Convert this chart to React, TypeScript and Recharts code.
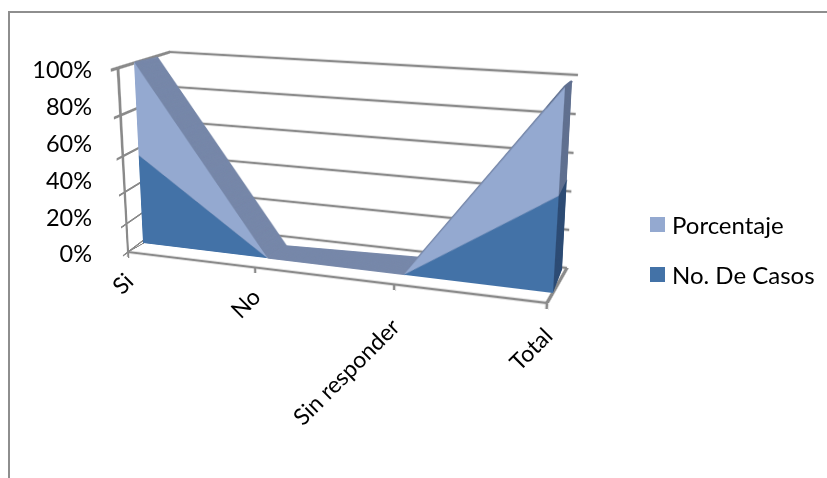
import { Area, AreaChart, CartesianGrid, ComposedChart, Line, XAxis, YAxis } from 'recharts';
import type { ReactNode } from 'react';

// Excel "3-D area" look: every plane is a flat chart pushed through a CSS homography
const categories = ['Si', 'No', 'Sin responder', 'Total'];
const porcentaje = [100, 0, 0, 100];
const casos = [99, 0, 0, 94];
const yTicks = [0, 20, 40, 60, 80, 100];
const legendNames = ['Porcentaje', 'No. De Casos'];
const legendColors = ['#94a9d0', '#4372a7'];

const rows = categories.map((name, i) => ({ name, porcentaje: porcentaje[i], casos: casos[i], pct: 0 }));

type Pt = [number, number];
type Quad = [Pt, Pt, Pt, Pt]; // TL, TR, BR, BL

const PAD = 6;
const FONT = 'Lato, Carlito, sans-serif';
const GRID = '#8a8a8a';
const LINE_W = 2.4;

const BACK_WALL: Quad = [[170, 52], [578, 75], [567, 268], [166, 223]];
const LEFT_WALL: Quad = [[118, 68], [170, 52], [166, 223], [128, 252]];
const FLOOR: Quad = [[165, 231], [567, 268], [547, 303], [128, 252]];
const FRONT: Quad = [[118, 68], [558, 93], [547, 303], [128, 252]];
const FACE_NEAR: Quad = [[134, 62], [565, 87], [553, 293], [143, 243]];
const FACE_FAR: Quad = [[157, 57], [572, 81], [562, 270], [157, 235]];
const LAYERS = 26;

function homography(q: Quad, w: number, h: number, pad: number) {
  const [[x0, y0], [x1, y1], [x2, y2], [x3, y3]] = q;
  const dx1 = x1 - x2, dx2 = x3 - x2, sx = x0 - x1 + x2 - x3;
  const dy1 = y1 - y2, dy2 = y3 - y2, sy = y0 - y1 + y2 - y3;
  const den = dx1 * dy2 - dx2 * dy1;
  const g = (sx * dy2 - dx2 * sy) / den;
  const k = (dx1 * sy - sx * dy1) / den;
  const a = x1 - x0 + g * x1, b = x3 - x0 + k * x3;
  const d = y1 - y0 + g * y1, e = y3 - y0 + k * y3;
  const col = (p: number, r: number, s: number) => [p / w, r / h, s - (p * pad) / w - (r * pad) / h];
  return [col(a, b, x0), col(d, e, y0), col(g, k, 1)];
}

function toMatrix3d(m: number[][]) {
  return `matrix3d(${m[0][0]},${m[1][0]},0,${m[2][0]},${m[0][1]},${m[1][1]},0,${m[2][1]},0,0,1,0,${m[0][2]},${m[1][2]},0,${m[2][2]})`;
}

function project(q: Quad, u: number, v: number): Pt {
  const m = homography(q, 1, 1, 0);
  const w = m[2][0] * u + m[2][1] * v + m[2][2];
  return [(m[0][0] * u + m[0][1] * v + m[0][2]) / w, (m[1][0] * u + m[1][1] * v + m[1][2]) / w];
}

function lerpQuad(a: Quad, b: Quad, t: number): Quad {
  return a.map((p, i) => [p[0] + (b[i][0] - p[0]) * t, p[1] + (b[i][1] - p[1]) * t]) as Quad;
}

function Plane({ quad, w, h, children }: { quad: Quad; w: number; h: number; children: ReactNode }) {
  return (
    <div
      style={{
        position: 'absolute',
        left: 0,
        top: 0,
        width: w + PAD * 2,
        height: h + PAD * 2,
        transformOrigin: '0 0',
        transform: toMatrix3d(homography(quad, w, h, PAD)),
      }}
    >
      {children}
    </div>
  );
}

const pad = { top: PAD, right: PAD, bottom: PAD, left: PAD };

function Wall({ quad, w, h, withAxis }: { quad: Quad; w: number; h: number; withAxis?: boolean }) {
  return (
    <Plane quad={quad} w={w} h={h}>
      <ComposedChart width={w + PAD * 2} height={h + PAD * 2} data={rows} margin={{ ...pad, left: 0 }}>
        <CartesianGrid vertical={false} stroke={GRID} strokeWidth={LINE_W} />
        <XAxis dataKey="name" hide />
        <YAxis
          width={PAD}
          domain={[0, 100]}
          ticks={yTicks}
          tickFormatter={() => ''}
          tickSize={withAxis ? 6 : 0}
          tickLine={withAxis ? { stroke: GRID, strokeWidth: LINE_W } : false}
          axisLine={withAxis ? { stroke: GRID, strokeWidth: LINE_W } : false}
        />
        <Line dataKey="pct" stroke="none" dot={false} isAnimationActive={false} />
      </ComposedChart>
    </Plane>
  );
}

function FloorEdges() {
  return (
    <Plane quad={FLOOR} w={400} h={40}>
      <ComposedChart width={412} height={52} data={rows} margin={{ top: PAD, bottom: PAD, left: 0, right: 0 }}>
        <XAxis dataKey="name" hide />
        <YAxis yAxisId="l" width={PAD} tick={false} axisLine={{ stroke: GRID, strokeWidth: LINE_W }} />
        <YAxis yAxisId="r" orientation="right" width={PAD} tick={false} axisLine={{ stroke: GRID, strokeWidth: LINE_W }} />
        <Line yAxisId="l" dataKey="pct" stroke="none" dot={false} isAnimationActive={false} />
        <Line yAxisId="r" dataKey="pct" stroke="none" dot={false} isAnimationActive={false} />
      </ComposedChart>
    </Plane>
  );
}

function FrontEdge() {
  return (
    <Plane quad={FRONT} w={420} h={190}>
      <ComposedChart width={432} height={202} data={rows} margin={{ top: PAD, left: PAD, right: PAD, bottom: 0 }}>
        <XAxis
          dataKey="name"
          height={PAD}
          tickSize={6}
          tickFormatter={() => ''}
          tickLine={{ stroke: GRID, strokeWidth: LINE_W }}
          axisLine={{ stroke: GRID, strokeWidth: LINE_W }}
        />
        <YAxis hide domain={[0, 100]} />
        <Line dataKey="pct" stroke="none" dot={false} isAnimationActive={false} />
      </ComposedChart>
    </Plane>
  );
}

function AreaLayer({ t, front }: { t: number; front?: boolean }) {
  const w = 420;
  const h = 190;
  const top = front ? legendColors[0] : 'url(#sideTop)';
  const low = front ? legendColors[1] : 'url(#sideLow)';
  return (
    <Plane quad={lerpQuad(FACE_NEAR, FACE_FAR, t)} w={w} h={h}>
      <AreaChart width={w + PAD * 2} height={h + PAD * 2} data={rows} stackOffset="expand" margin={pad}>
        <XAxis dataKey="name" hide />
        <YAxis hide domain={[0, 1]} />
        <Area
          dataKey="casos"
          stackId="a"
          type="linear"
          fill={low}
          fillOpacity={1}
          stroke={front ? 'none' : low}
          strokeWidth={1.5}
          dot={false}
          activeDot={false}
          isAnimationActive={false}
        />
        <Area
          dataKey="porcentaje"
          stackId="a"
          type="linear"
          fill={top}
          fillOpacity={1}
          stroke={front ? 'none' : top}
          strokeWidth={1.5}
          dot={false}
          activeDot={false}
          isAnimationActive={false}
        />
      </AreaChart>
    </Plane>
  );
}

function CategoryTick({ x, index, payload }: any) {
  // plot runs 0..1 over the point scale, the label sits under the projected front edge
  const u = (x - 128) / 419;
  const [px, py] = project(FRONT, u, 1);
  const tx = px + 7;
  const ty = py + 31 + (String(payload.value).length - 2) * 1.2;
  return (
    <text
      key={index}
      x={tx}
      y={ty}
      textAnchor="end"
      transform={`rotate(-45 ${tx} ${ty})`}
      fontFamily={FONT}
      fontSize={23}
      fill="#000"
    >
      {payload.value}
    </text>
  );
}

export default function App() {
  const depths = Array.from({ length: LAYERS }, (_, i) => 1 - i / LAYERS);
  return (
    <div
      style={{
        position: 'absolute',
        left: 0,
        top: 0,
        width: 827,
        height: 478,
        overflow: 'hidden',
        background: '#fff',
        fontFamily: FONT,
      }}
    >
      <div
        style={{
          position: 'absolute',
          left: 8,
          top: 11,
          width: 830,
          height: 480,
          borderLeft: '2px solid #8e8e8e',
          borderTop: '2px solid #8e8e8e',
        }}
      />
      <svg width={0} height={0} style={{ position: 'absolute' }}>
        <defs>
          <linearGradient id="sideTop" x1="0" y1="0" x2="1" y2="0">
            <stop offset="0.965" stopColor="#7586a8" />
            <stop offset="0.965" stopColor="#5f6f8f" />
          </linearGradient>
          <linearGradient id="sideLow" x1="0" y1="0" x2="1" y2="0">
            <stop offset="0.965" stopColor="#7586a8" />
            <stop offset="0.965" stopColor="#2b4a73" />
          </linearGradient>
        </defs>
      </svg>

      <Wall quad={BACK_WALL} w={400} h={190} />
      <Wall quad={LEFT_WALL} w={50} h={190} withAxis />
      <FloorEdges />
      <FrontEdge />
      {depths.map((t) => (
        <AreaLayer key={t} t={t} />
      ))}
      <AreaLayer t={0} front />

      <div style={{ position: 'absolute', left: 0, top: 0 }}>
        <ComposedChart width={827} height={478} data={rows} margin={{ top: 70, right: 280, bottom: 124, left: 0 }}>
          <XAxis
            dataKey="name"
            height={100}
            axisLine={false}
            tickLine={false}
            interval={0}
            tick={(props: any) => <CategoryTick {...props} />}
          />
          <YAxis
            width={128}
            domain={[0, 100]}
            ticks={yTicks}
            tickFormatter={(v: number) => `${v}%`}
            axisLine={false}
            tickLine={false}
            tickSize={0}
            tickMargin={36}
            tick={{ fontFamily: FONT, fontSize: 23.5, fill: '#000' }}
          />
          <Line dataKey="pct" stroke="none" dot={false} isAnimationActive={false} />
        </ComposedChart>
      </div>

      {legendNames.map((name, i) => (
        <div key={name} style={{ position: 'absolute', left: 650, top: 209 + i * 50, height: 30, display: 'flex', alignItems: 'center' }}>
          <span style={{ width: 15, height: 15, background: legendColors[i], marginRight: 7 }} />
          <span style={{ fontSize: 24, color: '#000' }}>{name}</span>
        </div>
      ))}
    </div>
  );
}
